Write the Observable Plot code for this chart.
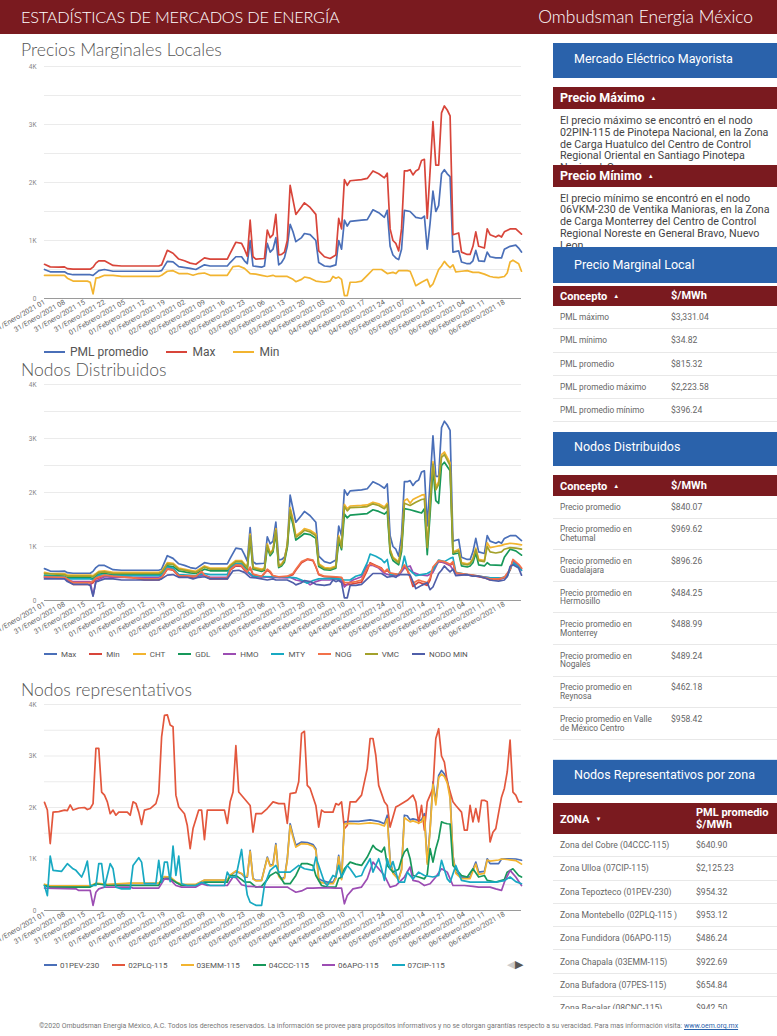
<!DOCTYPE html>
<html><head><meta charset="utf-8">
<script src="https://cdn.jsdelivr.net/npm/d3@7"></script>
<script src="https://cdn.jsdelivr.net/npm/@observablehq/plot@0.6"></script>
<style>
html,body{margin:0;padding:0;}
body{width:777px;height:1036px;position:relative;overflow:hidden;background:#fff;font-family:Roboto,"Noto Sans",sans-serif;}
.abs{position:absolute;}
#hdr{left:0;top:0;width:777px;height:34px;background:#7a1a1f;color:#fff;font-family:Lato,sans-serif;font-weight:300;line-height:34px;}
#hdr .l{position:absolute;left:21px;top:0;font-size:16.3px;letter-spacing:-0.2px;}
#hdr .r{position:absolute;right:24px;top:0;font-size:17.4px;}
.ttl{position:absolute;left:21px;font-family:Lato,sans-serif;font-weight:300;font-size:17.6px;color:#555;line-height:22px;}
.chart{position:absolute;left:0;}
.legend{position:absolute;display:flex;align-items:center;color:#555;white-space:nowrap;}
.legend .it{display:flex;align-items:center;}
.legend .sw{display:inline-block;height:2px;}
.blue{position:absolute;left:553px;width:224px;background:#2a62ab;color:#fff;font-size:12.5px;box-sizing:border-box;padding-left:21px;z-index:2;}
.rbar{position:absolute;left:553px;width:224px;background:#7a1a1f;color:#fff;font-weight:bold;font-size:12.5px;box-sizing:border-box;padding-left:7px;z-index:2;}
.tri{font-size:6px;vertical-align:2px;margin-left:6px;}
.para{position:absolute;left:560px;width:214px;font-size:10.7px;line-height:11.8px;color:#444;overflow:hidden;z-index:1;}
.row{position:absolute;left:553px;width:224px;border-bottom:1px solid #e8e8e8;box-sizing:border-box;display:flex;align-items:center;color:#666;font-size:8.3px;}
.row .a{position:absolute;left:7px;}
.row .b{position:absolute;}
#foot{position:absolute;left:0;width:777px;top:1021px;text-align:center;font-size:6.95px;color:#777;line-height:10px;white-space:nowrap;}
#foot a{color:#2a62ab;text-decoration:underline;}
</style></head>
<body>
<div id="hdr" class="abs"><span class="l">ESTADÍSTICAS DE MERCADOS DE ENERGÍA</span><span class="r">Ombudsman Energia México</span></div>

<div class="ttl" style="top:39px">Precios Marginales Locales</div>
<div id="c1" class="chart" style="top:56px"></div>
<div id="l1" class="legend" style="left:44px;top:345px;height:14px;font-size:12px"></div>

<div class="ttl" style="top:359px">Nodos Distribuidos</div>
<div id="c2" class="chart" style="top:376px"></div>
<div id="l2" class="legend" style="left:44px;top:648px;height:12px;font-size:8px"></div>

<div class="ttl" style="top:679px">Nodos representativos</div>
<div id="c3" class="chart" style="top:696px"></div>
<div id="l3" class="legend" style="left:44px;top:959px;height:12px;font-size:8px"></div>
<div class="abs" style="left:507px;top:958px;height:13px;line-height:13px;font-size:10.5px;"><span style="color:#ccc">◀</span><span style="color:#555">▶</span></div>

<div id="right"></div>
<div id="foot">©2020 Ombudsman Energia México, A.C. Todos los derechos reservados. La información se provee para propósitos informativos y no se otorgan garantías respecto a su veracidad. Para mas información visita: <a>www.oem.org.mx</a></div>

<script>
// ---------- x axis tick labels (one every 7 hours) ----------
const tickLabels = ["31/Enero/2021 01","31/Enero/2021 08","31/Enero/2021 15","31/Enero/2021 22",
"01/Febrero/2021 05","01/Febrero/2021 12","01/Febrero/2021 19","02/Febrero/2021 02","02/Febrero/2021 09",
"02/Febrero/2021 16","02/Febrero/2021 23","03/Febrero/2021 06","03/Febrero/2021 13","03/Febrero/2021 20",
"04/Febrero/2021 03","04/Febrero/2021 10","04/Febrero/2021 17","04/Febrero/2021 24","05/Febrero/2021 07",
"05/Febrero/2021 14","05/Febrero/2021 21","06/Febrero/2021 04","06/Febrero/2021 11","06/Febrero/2021 18"];
const tickHours = [0,7,14,21,28,35,42,49,56,63,70,77,84,91,98,105,112,119,126,133,140,147,154,161];
const yTicks = [0,1000,2000,3000,4000];
const yGrid = [500,1000,1500,2000,2500,3000,3500,4000];

// ---------- Chart 1: Precios Marginales Locales  [hour index, $/MWh] ----------
const pmlMax = [[0,590],[2,545],[5,540],[7,545],[8,515],[10,505],[16,505],[17,540],[18,610],[19,650],[21,650],[24,570],[27,560],[40,560],[41,580],[43,830],[45,780],[47,680],[49,650],[51,610],[53,590],[56,700],[58,680],[64,680],[65,780],[67,970],[69,950],[70,850],[71,730],[72,1350],[73,720],[74,680],[77,690],[78,1180],[79,1050],[80,1100],[81,1450],[82,750],[83,760],[84,800],[85,1000],[86,1950],[87,1700],[88,1450],[90,1580],[91,1650],[93,1570],[95,1450],[96,820],[98,720],[100,690],[102,750],[103,1380],[104,1200],[105,2050],[106,1950],[107,2030],[111,2050],[113,2070],[115,2200],[117,2150],[119,2080],[120,2160],[121,1200],[122,1000],[123,950],[124,820],[125,1200],[126,2200],[127,2200],[128,2220],[129,2130],[130,2200],[131,2230],[132,2380],[133,2400],[134,1380],[135,2200],[136,3050],[137,2300],[138,2300],[139,3200],[140,3320],[141,3250],[142,3150],[143,1100],[145,1130],[146,800],[148,760],[149,760],[150,900],[151,1150],[152,900],[154,870],[155,1200],[156,1100],[158,1060],[159,1090],[160,1060],[161,1150],[163,1200],[165,1200],[167,1110]];
const pmlAvg = [[0,500],[2,460],[7,460],[8,430],[10,410],[16,410],[17,400],[19,480],[21,500],[24,470],[40,470],[41,480],[43,640],[45,630],[47,550],[51,520],[53,500],[56,580],[58,560],[64,560],[65,620],[67,720],[69,720],[70,650],[71,600],[72,1000],[73,560],[76,540],[77,560],[78,950],[79,800],[80,850],[81,1050],[82,580],[83,620],[84,700],[85,900],[86,1280],[87,1150],[88,980],[90,1050],[91,1120],[93,1100],[95,1000],[96,620],[98,560],[100,550],[102,580],[103,1000],[104,850],[105,1350],[106,1250],[107,1330],[111,1350],[113,1360],[115,1530],[117,1480],[119,1400],[120,1520],[121,900],[122,750],[123,700],[124,670],[125,850],[126,1520],[128,1500],[130,1400],[132,1380],[133,1420],[134,850],[135,1300],[136,1850],[137,1500],[138,1600],[139,2150],[140,2220],[141,2150],[142,2100],[143,800],[145,820],[146,630],[148,600],[149,600],[150,650],[151,830],[152,650],[154,640],[155,800],[156,720],[158,700],[160,700],[161,850],[163,900],[165,920],[166,870],[167,800]];
const pmlMin = [[0,400],[7,400],[8,350],[10,300],[15,300],[16,280],[17,80],[18,350],[19,360],[21,400],[24,400],[27,380],[40,380],[41,400],[43,470],[45,480],[47,430],[50,430],[52,400],[54,430],[56,440],[58,400],[64,400],[66,550],[68,560],[70,520],[72,430],[74,420],[76,400],[78,380],[80,400],[81,380],[85,380],[87,330],[88,290],[90,330],[91,370],[93,350],[95,300],[98,280],[100,300],[101,380],[102,350],[103,370],[104,330],[105,50],[106,50],[107,280],[109,280],[111,300],[113,400],[115,500],[118,500],[120,430],[122,450],[123,430],[124,480],[127,480],[128,470],[129,350],[130,220],[131,250],[132,280],[134,330],[135,200],[136,250],[138,500],[139,560],[140,640],[141,580],[142,530],[143,580],[144,460],[146,470],[148,480],[150,450],[152,450],[154,420],[156,380],[157,370],[159,360],[161,380],[162,440],[163,630],[164,660],[166,600],[167,470]];

// ---------- Chart 2: Nodos Distribuidos (Max and NODO MIN are the same series as chart 1) ----------
const ndCHT = [[0,520],[2,500],[7,500],[8,470],[16,470],[17,460],[19,540],[21,550],[24,520],[40,520],[41,540],[43,700],[45,690],[47,600],[51,560],[53,540],[56,640],[58,600],[64,600],[65,660],[67,740],[69,740],[70,680],[71,620],[72,1230],[73,620],[76,580],[77,600],[78,1050],[79,880],[80,950],[81,1330],[82,650],[83,680],[84,760],[85,1050],[86,1720],[87,1500],[88,1200],[90,1280],[91,1330],[93,1300],[95,1230],[96,680],[98,610],[100,600],[102,640],[103,1200],[104,1000],[105,1780],[106,1700],[107,1750],[111,1760],[113,1770],[115,1820],[117,1790],[119,1730],[120,1800],[121,950],[122,800],[123,760],[124,720],[125,1000],[126,1850],[127,1880],[128,1800],[129,1870],[130,1900],[132,1950],[133,1960],[134,1000],[135,1800],[136,2570],[137,2100],[138,2200],[139,2700],[140,2750],[141,2650],[142,2550],[143,900],[145,950],[146,700],[148,680],[149,700],[150,780],[151,970],[152,760],[154,740],[155,1070],[156,980],[158,1000],[160,1020],[161,1040],[163,1060],[165,1050],[167,1030]];
const ndVMC = [[0,500],[7,480],[8,450],[16,450],[17,440],[19,520],[21,530],[24,500],[40,500],[41,520],[43,680],[45,670],[47,580],[51,540],[53,520],[56,620],[58,580],[64,580],[65,640],[67,720],[69,720],[70,660],[71,600],[72,1200],[73,600],[76,560],[77,580],[78,1020],[79,860],[80,930],[81,1300],[82,630],[83,660],[84,740],[85,1020],[86,1680],[87,1460],[88,1170],[90,1250],[91,1300],[93,1270],[95,1200],[96,660],[98,590],[100,580],[102,620],[103,1170],[104,980],[105,1740],[106,1660],[107,1720],[111,1730],[113,1740],[115,1790],[117,1760],[119,1700],[120,1770],[121,930],[122,780],[123,740],[124,700],[125,980],[126,1800],[128,1760],[130,1820],[132,1870],[133,1880],[134,980],[135,1750],[136,2520],[137,2050],[138,2150],[139,2650],[140,2700],[141,2600],[142,2500],[143,880],[145,920],[146,680],[148,660],[149,680],[150,760],[151,940],[152,740],[154,720],[155,1000],[156,900],[158,880],[160,900],[161,950],[163,980],[165,970],[167,950]];
const ndGDL = [[0,470],[7,450],[8,420],[16,420],[17,410],[19,490],[21,500],[24,480],[40,480],[41,500],[43,640],[45,630],[47,550],[51,510],[53,500],[56,580],[58,550],[64,550],[65,600],[67,690],[69,690],[70,630],[71,580],[72,1150],[73,580],[76,540],[77,560],[78,980],[79,830],[80,900],[81,1250],[82,610],[83,640],[84,710],[85,980],[86,1620],[87,1400],[88,1120],[90,1200],[91,1240],[93,1220],[95,1150],[96,630],[98,570],[100,560],[102,600],[103,1100],[104,940],[105,1600],[106,1530],[107,1580],[111,1600],[113,1610],[115,1680],[117,1650],[119,1600],[120,1650],[121,880],[122,740],[123,700],[124,660],[125,900],[126,1700],[128,1680],[130,1650],[132,1620],[133,1700],[134,850],[135,1600],[136,2450],[137,1850],[138,1800],[139,2500],[140,2560],[141,2480],[142,2400],[143,860],[145,880],[146,640],[148,620],[149,640],[150,700],[151,880],[152,660],[154,640],[155,700],[156,660],[160,650],[161,800],[163,950],[165,920],[167,840]];
const ndMin = [[0,430],[7,420],[8,380],[10,300],[16,300],[17,330],[18,400],[21,460],[24,440],[30,430],[35,380],[40,380],[41,420],[43,580],[45,560],[47,450],[51,430],[53,440],[55,520],[56,460],[58,400],[64,400],[65,560],[67,640],[69,630],[70,560],[71,520],[72,600],[73,480],[76,440],[78,560],[79,520],[80,450],[82,430],[85,440],[87,480],[88,560],[90,700],[92,760],[94,740],[95,620],[96,480],[98,440],[102,430],[104,420],[105,290],[107,300],[109,320],[111,340],[113,560],[114,700],[116,650],[118,600],[119,520],[120,560],[121,500],[124,470],[126,640],[127,560],[128,430],[129,260],[130,300],[131,340],[132,320],[134,280],[135,380],[136,600],[138,720],[140,700],[142,650],[143,700],[144,500],[147,480],[150,460],[152,440],[154,420],[156,380],[159,390],[161,420],[163,560],[164,740],[166,650],[167,590]];
const ndNOG = [[0,440],[7,430],[8,400],[10,330],[16,330],[17,360],[18,420],[21,470],[24,450],[35,400],[40,400],[41,430],[43,590],[45,570],[47,460],[53,450],[55,540],[56,470],[58,410],[64,410],[65,570],[67,660],[69,650],[70,580],[71,530],[72,620],[73,490],[76,450],[78,580],[79,540],[80,460],[82,440],[85,450],[87,500],[88,580],[90,720],[92,770],[94,750],[95,630],[96,490],[98,450],[102,440],[104,430],[105,330],[107,330],[109,350],[111,380],[113,600],[114,680],[116,640],[118,590],[119,530],[120,580],[121,510],[124,480],[126,660],[127,580],[128,460],[129,320],[130,350],[131,380],[132,360],[134,330],[135,420],[136,620],[138,740],[140,720],[142,670],[143,720],[144,510],[147,490],[150,470],[152,450],[154,430],[156,400],[159,400],[161,430],[163,580],[164,760],[166,670],[167,600]];
const ndHMO = [[0,420],[7,410],[8,380],[10,350],[16,350],[17,90],[18,360],[21,440],[24,430],[40,430],[41,450],[43,600],[45,580],[47,470],[53,440],[56,470],[58,430],[64,430],[65,600],[67,650],[69,650],[70,580],[71,520],[72,480],[73,440],[80,430],[85,420],[86,430],[88,380],[90,360],[92,330],[93,290],[95,350],[97,380],[100,380],[102,400],[103,380],[104,360],[105,250],[106,300],[108,380],[111,440],[113,650],[115,650],[117,600],[119,500],[121,470],[124,460],[126,600],[128,640],[129,520],[131,480],[134,460],[136,520],[138,730],[140,700],[142,650],[144,500],[150,460],[156,420],[160,410],[162,450],[164,730],[166,640],[167,560]];
const ndMTY = [[0,450],[7,440],[8,400],[16,400],[17,380],[19,470],[24,460],[40,460],[41,470],[43,620],[45,600],[47,480],[53,460],[56,500],[58,480],[64,480],[65,620],[67,680],[69,680],[70,600],[71,540],[72,500],[73,450],[80,440],[84,440],[86,430],[88,420],[90,380],[92,320],[94,370],[96,400],[100,410],[103,400],[104,390],[105,380],[107,380],[109,450],[111,480],[113,700],[114,860],[116,820],[118,760],[119,700],[120,760],[121,480],[124,490],[125,560],[126,820],[127,600],[128,560],[130,460],[132,480],[134,500],[136,560],[138,750],[140,720],[142,780],[143,800],[144,520],[148,480],[152,450],[156,420],[160,420],[162,450],[164,700],[166,620],[167,560]];

// ---------- Chart 3: Nodos representativos ----------
const nr01PEV = [[0,500],[2,470],[16,470],[18,520],[22,500],[30,520],[40,520],[42,650],[44,640],[46,550],[48,500],[53,500],[56,585],[64,585],[65,680],[67,760],[69,715],[70,650],[71,650],[72,1167],[73,620],[74,585],[76,585],[78,1037],[79,875],[80,900],[81,1297],[82,680],[83,615],[84,640],[85,1000],[86,1685],[87,1460],[88,1265],[90,1330],[92,1320],[94,1280],[95,1200],[96,620],[97,585],[99,550],[101,550],[102,650],[103,1070],[104,620],[105,1720],[107,1730],[110,1730],[114,1760],[117,1730],[119,1685],[120,1850],[121,975],[122,745],[124,615],[125,800],[126,1850],[127,1840],[128,1760],[129,1780],[131,1750],[132,1760],[133,1880],[134,940],[135,1590],[136,2500],[137,2110],[138,2625],[139,2720],[140,2650],[141,2530],[142,2240],[143,1070],[144,745],[146,650],[149,650],[150,800],[151,940],[152,745],[154,760],[155,1005],[156,910],[159,910],[160,1000],[162,1005],[165,1000],[167,975]];
const nr02PLQ = [[0,2100],[1,1950],[2,1300],[3,1910],[5,1920],[7,1950],[8,1940],[9,2050],[10,1950],[12,1990],[14,2000],[15,1960],[16,1980],[17,2075],[18,3150],[19,3150],[20,2300],[21,2240],[22,2110],[23,1880],[24,1950],[25,1850],[26,1910],[29,1910],[30,1850],[31,2110],[32,2080],[33,1910],[34,1670],[35,1950],[37,1980],[39,2075],[40,2270],[41,3370],[42,3790],[43,3800],[44,3600],[45,3570],[46,2240],[47,2010],[49,1880],[50,1650],[51,1200],[52,1590],[54,1950],[55,1950],[56,1375],[57,1950],[60,1950],[63,1950],[64,1690],[65,2110],[66,2300],[67,3200],[68,2300],[70,2170],[72,2040],[73,1520],[74,1880],[76,1880],[78,1980],[80,2110],[82,2075],[84,2075],[85,1690],[86,2270],[88,2290],[89,2500],[90,3440],[91,3480],[92,2430],[93,2370],[95,2040],[96,1620],[97,1950],[98,1910],[101,1910],[102,2075],[103,2050],[104,2110],[105,1590],[106,1650],[107,2110],[109,2110],[111,2240],[113,2755],[114,3340],[115,3340],[116,3010],[117,2430],[119,2110],[120,2040],[121,1620],[123,2010],[124,2040],[127,2140],[129,2240],[130,2110],[131,1690],[132,2040],[133,1560],[134,2110],[136,2370],[137,3340],[138,3530],[139,3000],[140,2880],[141,2500],[143,2110],[144,2040],[146,1910],[147,1560],[148,1560],[149,2040],[150,1720],[151,1980],[152,1720],[153,2140],[154,2140],[155,2110],[156,1330],[157,1520],[158,1590],[159,1900],[160,2200],[161,2370],[162,2690],[163,3310],[164,2300],[165,2240],[166,2110],[167,2110]];
const nr03EMM = [[0,510],[2,480],[16,480],[18,530],[22,510],[30,530],[40,530],[42,660],[44,650],[46,560],[48,510],[53,510],[56,590],[64,590],[65,690],[67,770],[69,720],[70,660],[71,660],[72,1150],[73,610],[74,575],[76,580],[78,1020],[79,860],[80,880],[81,1270],[82,660],[83,600],[84,620],[85,980],[86,1650],[87,1420],[88,1230],[90,1300],[92,1290],[94,1250],[95,1170],[96,580],[97,540],[99,520],[101,520],[102,620],[103,1040],[104,600],[105,1680],[107,1690],[110,1680],[114,1700],[117,1680],[119,1640],[120,1780],[121,950],[122,720],[124,600],[125,780],[126,1800],[128,1720],[129,1740],[131,1700],[132,1720],[133,1820],[134,900],[135,1560],[136,2450],[137,2050],[138,2580],[139,2650],[140,2600],[141,2480],[142,2180],[143,1040],[144,720],[146,620],[149,620],[150,770],[151,900],[152,700],[154,720],[155,980],[156,960],[159,980],[160,1000],[162,990],[165,970],[167,900]];
const nr04CCC = [[0,485],[2,455],[16,455],[18,520],[22,490],[30,485],[40,485],[41,615],[44,615],[46,550],[48,485],[53,485],[56,550],[64,550],[65,680],[67,680],[69,600],[70,555],[72,550],[74,455],[76,470],[78,600],[79,680],[81,745],[82,700],[84,520],[86,520],[88,680],[89,800],[90,910],[92,910],[94,875],[95,680],[97,485],[99,455],[102,455],[103,620],[104,650],[105,810],[107,940],[109,900],[111,875],[113,1037],[115,1265],[116,1200],[118,1135],[119,1230],[120,875],[122,745],[124,800],[125,1000],[126,1135],[127,1200],[128,1005],[129,680],[131,650],[133,615],[134,700],[135,1200],[136,940],[137,1200],[138,1395],[139,1720],[140,1700],[141,1685],[142,1680],[143,875],[144,810],[146,680],[148,650],[150,810],[152,650],[154,680],[155,585],[158,550],[161,600],[162,745],[164,810],[166,680],[167,650]];
const nr06APO = [[0,435],[11,420],[12,390],[16,390],[17,100],[18,355],[19,420],[21,455],[30,455],[31,435],[40,435],[42,615],[44,600],[46,485],[48,455],[53,455],[55,520],[57,485],[64,485],[66,650],[67,640],[69,500],[71,470],[72,470],[76,455],[85,455],[86,420],[88,355],[90,380],[92,435],[94,435],[98,445],[102,435],[104,435],[105,130],[106,290],[108,420],[111,455],[113,615],[115,940],[117,810],[119,680],[121,455],[123,485],[126,650],[128,845],[129,585],[131,560],[133,485],[135,520],[137,650],[139,810],[141,745],[143,485],[147,485],[150,470],[152,455],[156,455],[158,420],[160,390],[161,550],[163,780],[165,650],[167,485]];
const nr07CIP = [[0,485],[1,290],[2,1057],[3,780],[6,760],[8,910],[10,810],[11,780],[13,650],[14,780],[15,960],[16,485],[18,485],[19,910],[20,910],[21,455],[23,910],[24,810],[25,455],[27,420],[30,420],[31,875],[33,1025],[34,940],[35,520],[39,520],[40,975],[41,550],[42,940],[43,940],[44,560],[45,1250],[46,680],[47,1057],[48,520],[50,485],[53,485],[55,550],[58,485],[63,485],[64,745],[65,650],[67,650],[69,1185],[70,680],[71,300],[72,160],[74,100],[76,100],[77,485],[79,780],[81,875],[82,745],[86,745],[89,875],[91,810],[94,780],[95,1037],[96,875],[98,550],[99,485],[101,680],[102,650],[103,875],[104,650],[106,875],[107,810],[109,650],[111,680],[112,810],[114,1005],[115,745],[117,1005],[118,810],[119,585],[120,1005],[121,810],[122,950],[124,550],[126,550],[127,745],[129,615],[131,745],[133,680],[136,650],[138,680],[139,975],[141,615],[142,550],[144,875],[146,585],[149,550],[155,550],[158,550],[161,580],[163,650],[165,560],[167,520]];

// ---------- side-panel tables ----------
const pmlConcepts = ["PML máximo","PML mínimo","PML promedio","PML promedio máximo","PML promedio mínimo"];
const pmlValues = ["$3,331.04","$34.82","$815.32","$2,223.58","$396.24"];
const ndConcepts = ["Precio promedio","Precio promedio en<br>Chetumal","Precio promedio en<br>Guadalajara","Precio promedio en<br>Hermosillo","Precio promedio en<br>Monterrey","Precio promedio en<br>Nogales","Precio promedio en<br>Reynosa","Precio promedio en Valle<br>de México Centro"];
const ndValues = ["$840.07","$969.62","$896.26","$484.25","$488.99","$489.24","$462.18","$958.42"];
const zonas = ["Zona del Cobre (04CCC-115)","Zona Ulloa (07CIP-115)","Zona Tepozteco (01PEV-230)","Zona Montebello (02PLQ-115 )","Zona Fundidora (06APO-115)","Zona Chapala (03EMM-115)","Zona Bufadora (07PES-115)","Zona Bacalar (08CNC-115)"];
const zonaValues = ["$640.90","$2,125.23","$954.32","$953.12","$486.24","$922.69","$654.84","$942.50"];

// ---------- colours ----------
const C = {blue:"#4a6fb8", red:"#d8453a", yellow:"#f2b430", green:"#17985a", purple:"#9c4db3",
  cyan:"#18a9c2", orange:"#f2714a", olive:"#a3a12b", indigo:"#4f5ea9", red3:"#e3573d"};

const chart1 = [
  {name:"PML promedio", color:C.blue, data:pmlAvg},
  {name:"Max", color:C.red, data:pmlMax},
  {name:"Min", color:C.yellow, data:pmlMin}];
const chart2 = [
  {name:"Max", color:C.blue, data:pmlMax},
  {name:"Min", color:C.red, data:ndMin},
  {name:"CHT", color:C.yellow, data:ndCHT},
  {name:"GDL", color:C.green, data:ndGDL},
  {name:"HMO", color:C.purple, data:ndHMO},
  {name:"MTY", color:C.cyan, data:ndMTY},
  {name:"NOG", color:C.orange, data:ndNOG},
  {name:"VMC", color:C.olive, data:ndVMC},
  {name:"NODO MIN", color:C.indigo, data:pmlMin}];
const chart3 = [
  {name:"01PEV-230", color:C.blue, data:nr01PEV},
  {name:"02PLQ-115", color:C.red3, data:nr02PLQ},
  {name:"03EMM-115", color:C.yellow, data:nr03EMM},
  {name:"04CCC-115", color:C.green, data:nr04CCC},
  {name:"06APO-115", color:C.purple, data:nr06APO},
  {name:"07CIP-115", color:C.cyan, data:nr07CIP}];

function drawChart(el, series, height, marginTop, plotH) {
  const p = Plot.plot({
    width: 540, height, marginLeft: 44, marginRight: 19, marginTop, marginBottom: height - marginTop - plotH,
    style: {fontFamily: "Roboto, sans-serif", color: "#777", background: "transparent", overflow: "visible"},
    x: {domain: [0, 167]},
    y: {domain: [0, 4000]},
    marks: [
      Plot.ruleY(yGrid, {stroke: "#ebebeb"}),
      Plot.ruleY([0], {stroke: "#9a9a9a"}),
      ...series.map(s => Plot.line(s.data, {stroke: s.color, strokeWidth: 1.7, strokeLinejoin: "round"})),
      Plot.axisY({ticks: yTicks, tickFormat: d => d === 0 ? "0" : (d/1000) + "K", tickSize: 0, tickPadding: 8, fontSize: 6.5, fill: "#888"}),
      Plot.axisX({ticks: tickHours, tickFormat: d => tickLabels[tickHours.indexOf(d)], tickRotate: -30, tickSize: 0, tickPadding: 3, fontSize: 7.1, fill: "#5f5f5f", label: null})
    ]
  });
  document.getElementById(el).appendChild(p);
}
drawChart("c1", chart1, 290, 10, 232);
drawChart("c2", chart2, 272, 8, 216);
drawChart("c3", chart3, 262, 8, 206);

function legend(el, series, swW, gap, txtGap) {
  const box = document.getElementById(el);
  series.forEach(s => {
    const it = document.createElement("div");
    it.className = "it";
    it.style.marginRight = gap + "px";
    it.innerHTML = `<span class="sw" style="width:${swW}px;background:${s.color};margin-right:${txtGap}px"></span><span>${s.name}</span>`;
    box.appendChild(it);
  });
}
legend("l1", chart1, 21, 18, 5);
legend("l2", chart2, 13, 13, 4);
legend("l3", chart3, 13, 13, 3);

// ---------- side panel ----------
let html = "";
html += `<div class="blue" style="top:43px;height:35px;line-height:31px">Mercado Eléctrico Mayorista</div>`;
html += `<div class="rbar" style="top:87px;height:22px;line-height:22px">Precio Máximo<span class="tri">▲</span></div>`;
html += `<div class="para" style="top:115px;height:52px">El precio máximo se encontró en el nodo<br>02PIN-115 de Pinotepa Nacional, en la Zona<br>de Carga Huatulco del Centro de Control<br>Regional Oriental en Santiago Pinotepa<br>Nacional, Oaxaca</div>`;
html += `<div class="rbar" style="top:165px;height:22px;line-height:22px">Precio Mínimo<span class="tri">▲</span></div>`;
html += `<div class="para" style="top:192.5px;height:54px">El precio mínimo se encontró en el nodo<br>06VKM-230 de Ventika Manioras, en la Zona<br>de Carga Monterrey del Centro de Control<br>Regional Noreste en General Bravo, Nuevo<br>Leon</div>`;
html += `<div class="blue" style="top:247px;height:36px;line-height:36px">Precio Marginal Local</div>`;
html += `<div class="rbar" style="top:286px;height:20px;line-height:20px;font-size:11px">Concepto<span class="tri">▲</span><span style="position:absolute;left:118px">$/MWh</span></div>`;
pmlConcepts.forEach((c, i) => {
  html += `<div class="row" style="top:${306 + i*23.3}px;height:23.3px"><span class="a">${c}</span><span class="b" style="left:118px;font-size:8.6px">${pmlValues[i]}</span></div>`;
});
html += `<div class="blue" style="top:432px;height:34px;line-height:30px">Nodos Distribuidos</div>`;
html += `<div class="rbar" style="top:475px;height:21px;line-height:21px;font-size:11px">Concepto<span class="tri">▲</span><span style="position:absolute;left:118px">$/MWh</span></div>`;
let y = 496;
ndConcepts.forEach((c, i) => {
  const h = i === 0 ? 22.7 : 31.6;
  html += `<div class="row" style="top:${y}px;height:${h}px;line-height:8.6px"><span class="a">${c}</span><span class="b" style="left:118px;font-size:8.6px;${i>0?'padding-bottom:8.6px':''}">${ndValues[i]}</span></div>`;
  y += h;
});
html += `<div class="abs" style="left:553px;top:759px;width:224px;height:1px;background:#d8e6f5"></div>`;
html += `<div class="blue" style="top:760px;height:35px;line-height:29px">Nodos Representativos por zona</div>`;
html += `<div class="rbar" style="top:803px;height:31px;font-size:11px"><span style="position:absolute;left:7px;top:10px">ZONA<span class="tri">▼</span></span><span style="position:absolute;left:143px;top:4px;line-height:11.5px">PML promedio<br>$/MWh</span></div>`;
html += `<div class="abs" style="left:553px;top:834px;width:224px;height:175px;overflow:hidden">`;
zonas.forEach((z, i) => {
  html += `<div class="row" style="left:0;top:${i*23.3}px;height:23.3px;font-size:8.6px"><span class="a">${z}</span><span class="b" style="left:143px">${zonaValues[i]}</span></div>`;
});
html += `</div>`;
document.getElementById("right").innerHTML = html;
</script>
</body></html>
